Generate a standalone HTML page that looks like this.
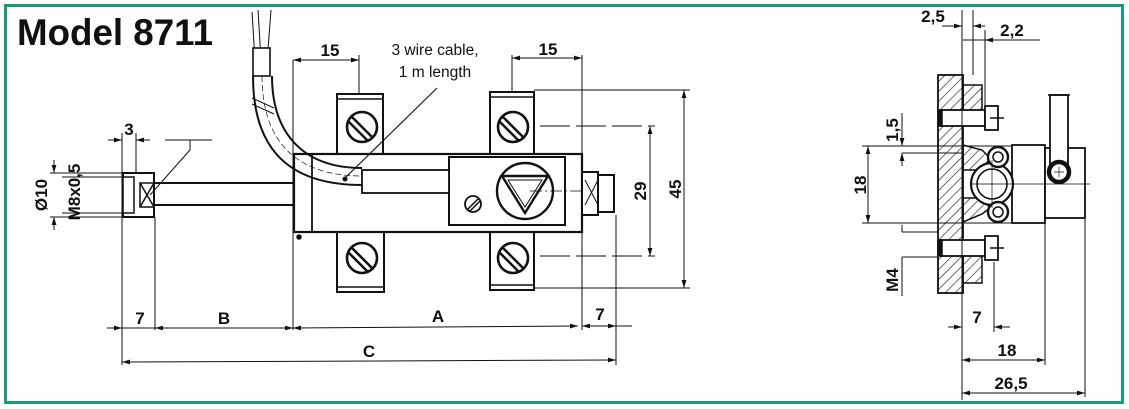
<!DOCTYPE html>
<html><head><meta charset="utf-8"><style>
html,body{margin:0;padding:0;background:#fff}
svg{display:block}
text{font-family:"Liberation Sans",sans-serif;font-weight:bold;fill:#111}
.t{font-weight:normal}
</style></head><body>
<svg width="1129" height="409" viewBox="0 0 1129 409" xmlns="http://www.w3.org/2000/svg">
<defs>
<marker id="a" viewBox="0 0 10 6" refX="10" refY="3" markerWidth="8" markerHeight="5" orient="auto-start-reverse"><path d="M0,0L10,3L0,6z" fill="#111"/></marker>
<pattern id="h" width="7" height="7" patternUnits="userSpaceOnUse" patternTransform="rotate(45)"><line x1="0" y1="0" x2="0" y2="7" stroke="#222" stroke-width="1.3"/></pattern>
</defs>
<rect x="5.5" y="5.5" width="1117" height="397" fill="#fff" stroke="#1a9a7a" stroke-width="3"/>
<text x="17" y="45" font-size="37" textLength="196" lengthAdjust="spacingAndGlyphs">Model 8711</text>

<g stroke="#111" fill="none" stroke-width="1.5">
<!-- brackets -->
<rect x="337" y="94" width="46" height="60" fill="#fff" stroke-width="2"/>
<rect x="490" y="92" width="44" height="62" fill="#fff" stroke-width="2"/>
<rect x="337" y="232" width="47" height="60" fill="#fff" stroke-width="2"/>
<rect x="490" y="232" width="44" height="58" fill="#fff" stroke-width="2"/>
<line x1="337" y1="99" x2="383" y2="99"/><line x1="490" y1="97" x2="534" y2="97"/>
<line x1="337" y1="287" x2="384" y2="287"/><line x1="490" y1="285" x2="534" y2="285"/>
<g stroke-width="2.6">
<circle cx="362" cy="127" r="15"/><circle cx="513" cy="127" r="15"/>
<circle cx="362" cy="258" r="15"/><circle cx="513" cy="258" r="15"/>
</g>
<g stroke-width="2.5">
<path d="M352 117L372 137M348 121L368 141"/><path d="M503 117L523 137M499 121L519 141"/>
<path d="M352 248L372 268M348 252L368 272"/><path d="M503 248L523 268M499 252L519 272"/>
</g>
<!-- body -->
<rect x="294" y="154" width="288" height="78" fill="#fff" stroke-width="2.2"/>
<line x1="312" y1="154" x2="312" y2="232" stroke-width="1.8"/>
<rect x="449" y="157" width="116" height="68" fill="#fff" stroke-width="2"/>
<circle cx="525" cy="191" r="28" stroke-width="2.4"/>
<path d="M502 176L548 176L525 213z" stroke-width="2.4"/>
<path d="M508 180L542 180L525 207z" stroke-width="1"/>
<circle cx="473" cy="204" r="8" stroke-width="1.8"/>
<path d="M467 210L479 198M469 212L481 200" />
<line x1="530" y1="191" x2="610" y2="191" stroke-dasharray="12 3 2 3" stroke-width="0.8"/>
<circle cx="299" cy="237" r="2" fill="#111"/>
<!-- rod & nut -->
<rect x="154" y="183" width="140" height="22" fill="#fff" stroke-width="2"/>
<rect x="123" y="173" width="31" height="44" fill="#fff" stroke-width="2"/>
<rect x="123" y="177" width="11" height="36" fill="#fff"/>
<rect x="140" y="183" width="14" height="24"/><path d="M140 183L154 207M154 183L140 207"/>
<rect x="582" y="172" width="16" height="43" fill="#fff" stroke-width="2"/>
<path d="M585 180L598 205M598 180L585 205" stroke-width="1"/>
<rect x="598" y="175" width="16" height="37" fill="#fff" stroke-width="2"/>
<!-- cable -->
<path d="M252 12L256 76M258 10L262 76M271 10L266 76" stroke-width="1"/>
<rect x="253" y="48" width="17" height="28" fill="#fff" stroke-width="1.6"/>
<path d="M253 76C253 140 280 185 362 185" stroke-width="2"/>
<path d="M272 76C272 130 300 168 362 168" stroke-width="2"/>
<path d="M262 76C262 135 290 176 362 176" stroke-dasharray="6 3" stroke-width="0.7"/>
<path d="M252 98L274 108M252 104L274 114" stroke-width="1"/>
<rect x="362" y="170" width="87" height="23" fill="#fff" stroke-width="1.8"/>
<line x1="437" y1="88" x2="345" y2="178" stroke-width="1.1"/>
<circle cx="345" cy="179" r="1.8" fill="#111"/>

<!-- dim lines left view -->
<g stroke-width="1">
<line x1="293" y1="60" x2="293" y2="330"/><line x1="359" y1="55" x2="359" y2="94"/>
<line x1="293" y1="60" x2="359" y2="60" marker-start="url(#a)" marker-end="url(#a)"/>
<line x1="512" y1="55" x2="512" y2="92"/><line x1="582" y1="55" x2="582" y2="330"/>
<line x1="512" y1="58" x2="582" y2="58" marker-start="url(#a)" marker-end="url(#a)"/>
<line x1="534" y1="90" x2="690" y2="90"/><line x1="534" y1="288" x2="690" y2="288"/>
<line x1="540" y1="126" x2="655" y2="126" stroke-dasharray="30 6"/><line x1="540" y1="256" x2="655" y2="256" stroke-dasharray="30 6"/>
<line x1="650" y1="126" x2="650" y2="256" marker-start="url(#a)" marker-end="url(#a)"/>
<line x1="684" y1="90" x2="684" y2="288" marker-start="url(#a)" marker-end="url(#a)"/>
<line x1="122" y1="133" x2="122" y2="365"/><line x1="136" y1="133" x2="136" y2="173"/>
<line x1="155" y1="217" x2="155" y2="330"/><line x1="616" y1="215" x2="616" y2="365"/>
<line x1="108" y1="140" x2="122" y2="140" marker-end="url(#a)"/><line x1="150" y1="140" x2="136" y2="140" marker-end="url(#a)"/>
<path d="M165 140L212 140M190 140L190 150L150 195"/>
<line x1="50" y1="173" x2="122" y2="173"/><line x1="50" y1="217" x2="122" y2="217"/>
<line x1="62" y1="177" x2="122" y2="177"/><line x1="62" y1="213" x2="122" y2="213"/>
<line x1="54" y1="160" x2="54" y2="173" marker-end="url(#a)"/><line x1="54" y1="230" x2="54" y2="217" marker-end="url(#a)"/>
<line x1="107" y1="328" x2="122" y2="328" marker-end="url(#a)"/>
<line x1="122" y1="328" x2="155" y2="328"/>
<line x1="155" y1="328" x2="293" y2="328" marker-start="url(#a)" marker-end="url(#a)"/>
<line x1="293" y1="328" x2="578" y2="326" marker-start="url(#a)" marker-end="url(#a)"/>
<line x1="582" y1="326" x2="616" y2="326" marker-start="url(#a)" marker-end="url(#a)"/>
<line x1="616" y1="326" x2="632" y2="326"/>
<line x1="122" y1="362" x2="616" y2="360" marker-start="url(#a)" marker-end="url(#a)"/>
</g>
</g>
<text x="330" y="56" font-size="17" text-anchor="middle">15</text>
<text x="548" y="55" font-size="17" text-anchor="middle">15</text>
<text x="435" y="55" font-size="15.5" text-anchor="middle" class="t">3 wire cable,</text>
<text x="435" y="77" font-size="15.5" text-anchor="middle" class="t">1 m length</text>
<text x="129" y="135" font-size="17" text-anchor="middle">3</text>
<text transform="translate(646,191) rotate(-90)" font-size="17" text-anchor="middle">29</text>
<text transform="translate(681,189) rotate(-90)" font-size="17" text-anchor="middle">45</text>
<text transform="translate(47,195) rotate(-90)" font-size="17" text-anchor="middle">Ø10</text>
<text transform="translate(80,192) rotate(-90)" font-size="17" text-anchor="middle">M8x0,5</text>
<text x="140" y="324" font-size="17" text-anchor="middle">7</text>
<text x="224" y="324" font-size="17" text-anchor="middle">B</text>
<text x="438" y="322" font-size="17" text-anchor="middle">A</text>
<text x="600" y="320" font-size="17" text-anchor="middle">7</text>
<text x="369" y="357" font-size="17" text-anchor="middle">C</text>

<!-- right view -->
<g stroke="#111" fill="none" stroke-width="1.5">
<rect x="938" y="75" width="25" height="218" fill="url(#h)" stroke-width="1.8"/>
<rect x="963" y="85" width="19" height="35" fill="url(#h)"/>
<rect x="963" y="250" width="19" height="33" fill="url(#h)"/>
<path d="M963 145L982 150L990 158L982 170L963 170z" fill="url(#h)"/>
<path d="M963 222L982 214L990 208L982 198L963 198z" fill="url(#h)"/>
<rect x="941" y="110" width="44" height="16" fill="#fff" stroke-width="1.8"/>
<rect x="941" y="240" width="44" height="16" fill="#fff" stroke-width="1.8"/>
<rect x="938" y="110" width="4" height="16" fill="#111"/><rect x="938" y="240" width="4" height="16" fill="#111"/>
<rect x="985" y="106" width="13" height="24" fill="#fff" stroke-width="1.8"/>
<rect x="985" y="236" width="13" height="24" fill="#fff" stroke-width="1.8"/>
<path d="M990 118L1004 118M990 248L1004 248" stroke-width="1.4"/>
<rect x="1012" y="145" width="33" height="78" fill="#fff" stroke-width="1.8"/>
<rect x="1045" y="148" width="40" height="70" fill="#fff" stroke-width="1.8"/>
<circle cx="992" cy="184" r="21" fill="#fff" stroke-width="2.2"/>
<circle cx="992" cy="184" r="15" stroke-width="1.6"/>
<circle cx="998" cy="157" r="10" fill="#fff" stroke-width="2.4"/><circle cx="998" cy="157" r="5"/>
<circle cx="998" cy="212" r="10" fill="#fff" stroke-width="2.4"/><circle cx="998" cy="212" r="5"/>
<rect x="1050" y="95" width="18" height="80" fill="#fff" stroke-width="1.8"/>
<circle cx="1059" cy="172" r="10" fill="#fff" stroke-width="4.5"/>
<path d="M1048 95L1070 95"/>
<path d="M1054 172L1064 172M1059 167L1059 177M970 184L1090 184M992 160L992 208" stroke-width="0.7"/>
<g stroke-width="1">
<line x1="962" y1="10" x2="962" y2="400"/><line x1="973" y1="10" x2="973" y2="75"/><line x1="985" y1="30" x2="985" y2="106"/>
<line x1="942" y1="26" x2="962" y2="26" marker-end="url(#a)"/><line x1="985" y1="26" x2="973" y2="26" marker-end="url(#a)"/>
<line x1="963" y1="40" x2="985" y2="40"/><line x1="1040" y1="40" x2="985" y2="40" marker-end="url(#a)"/>
<line x1="862" y1="146" x2="1012" y2="146"/><line x1="862" y1="223" x2="1012" y2="223"/>
<line x1="868" y1="146" x2="868" y2="223" marker-start="url(#a)" marker-end="url(#a)"/>
<line x1="902" y1="153" x2="962" y2="153"/>
<line x1="902" y1="113" x2="902" y2="146" marker-end="url(#a)"/><line x1="902" y1="166" x2="902" y2="153" marker-end="url(#a)"/>
<line x1="902" y1="232" x2="938" y2="232"/><line x1="902" y1="257" x2="938" y2="257"/>
<line x1="902" y1="225" x2="902" y2="232" /><line x1="902" y1="257" x2="902" y2="296"/>
<line x1="994" y1="262" x2="994" y2="332"/><line x1="1045" y1="223" x2="1045" y2="365"/><line x1="1085" y1="218" x2="1085" y2="397"/>
<line x1="948" y1="327" x2="962" y2="327" marker-end="url(#a)"/><line x1="1010" y1="327" x2="994" y2="327" marker-end="url(#a)"/>
<line x1="962" y1="360" x2="1045" y2="360" marker-start="url(#a)" marker-end="url(#a)"/>
<line x1="962" y1="393" x2="1085" y2="393" marker-start="url(#a)" marker-end="url(#a)"/>
</g>
</g>
<text x="933" y="22" font-size="17" text-anchor="middle">2,5</text>
<text x="1012" y="36" font-size="17" text-anchor="middle">2,2</text>
<text transform="translate(898,130) rotate(-90)" font-size="17" text-anchor="middle">1,5</text>
<text transform="translate(866,185) rotate(-90)" font-size="17" text-anchor="middle">18</text>
<text transform="translate(898,280) rotate(-90)" font-size="17" text-anchor="middle">M4</text>
<text x="977" y="323" font-size="17" text-anchor="middle">7</text>
<text x="1007" y="356" font-size="17" text-anchor="middle">18</text>
<text x="1011" y="389" font-size="17" text-anchor="middle">26,5</text>
</svg>
</body></html>
